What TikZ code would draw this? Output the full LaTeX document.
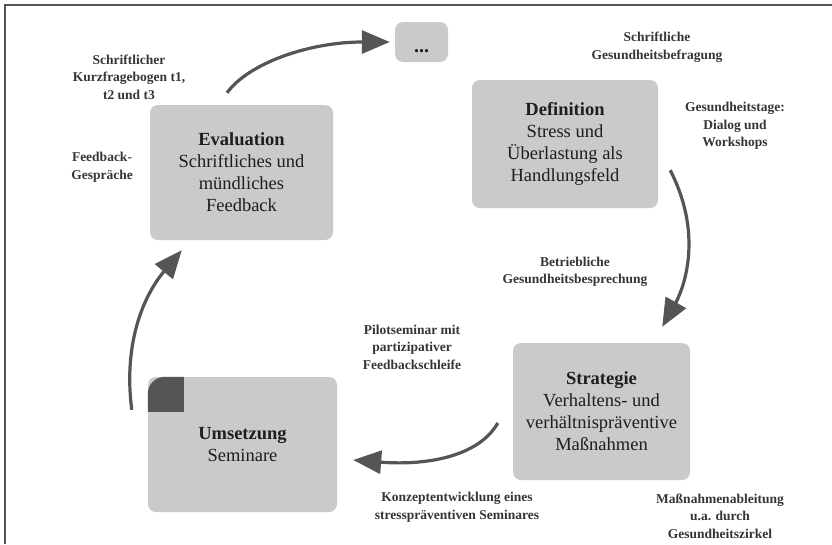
\documentclass[tikz,border=0pt]{standalone}
\usepackage{fontspec}
\setmainfont{Liberation Serif}
\usetikzlibrary{arrows.meta}
\definecolor{boxgray}{HTML}{CACACA}
\definecolor{arrowgray}{HTML}{555555}
\definecolor{ink}{HTML}{1E1E1E}

\begin{document}
\begin{tikzpicture}[x=1pt,y=-1pt,
  phase/.style={fill=boxgray, rounded corners=8pt, inner sep=0pt, align=center,
    text=ink, font=\fontsize{18.5}{22}\selectfont},
  note/.style={align=center, text=ink!90, inner sep=0pt,
    font=\fontsize{13.5}{17.5}\selectfont\bfseries},
  flow/.style={draw=arrowgray, line width=3.2pt, -{Triangle[length=28pt,width=23pt]}},
  cornermark/.style={fill=arrowgray}
]
\useasboundingbox (0,0) rectangle (832,544);
\fill[white] (0,0) rectangle (832,544);
% frame edges
\draw[arrowgray, line width=2pt] (5,544) -- (5,5) -- (832,5);

% phase boxes
\node[phase, minimum width=53pt, minimum height=40pt] (more) at (421.5,42)
  {\raisebox{-21pt}{\bfseries\fontsize{20}{22}\selectfont ...}};
\node[phase, minimum width=183pt, minimum height=135pt] (eval) at (241.5,172.5)
  {{\bfseries Evaluation}\\Schriftliches und\\mündliches\\Feedback};
\node[phase, minimum width=186pt, minimum height=128pt] (def) at (565,144)
  {{\bfseries Definition}\\Stress und\\Überlastung als\\Handlungsfeld};
\node[phase, minimum width=177pt, minimum height=137pt] (strat) at (601.5,411.5)
  {{\bfseries Strategie}\\Verhaltens- und\\verhältnispräventive\\Maßnahmen};
\node[phase, minimum width=189pt, minimum height=135pt] (ums) at (242.5,444.5)
  {{\bfseries Umsetzung}\\Seminare};

% marker on the current phase
\fill[cornermark] ([yshift=-35pt]ums.north west) -- ++(0,-18)
  .. controls +(0,-9.4) and +(-9.4,0) .. ++(17,-17) -- ++(19,0) -- ++(0,35) -- cycle;

% annotations
\node[note] (qa) at (129,77) {Schriftlicher\\Kurzfragebogen t1,\\t2 und t3};
\node[note] (qb) at (102,167) {Feedback-\\Gespräche};
\node[note] (qc) at (657,47) {Schriftliche\\Gesundheitsbefragung};
\node[note] (qd) at (735,126) {Gesundheitstage:\\Dialog und\\Workshops};
\node[note] (qe) at (575,272) {Betriebliche\\Gesundheitsbesprechung};
\node[note] (qf) at (412,347) {Pilotseminar mit\\partizipativer\\Feedbackschleife};
\node[note] (qg) at (457,507) {Konzeptentwicklung eines\\stresspräventiven Seminares};
\node[note] (qh) at (720,516) {Maßnahmenableitung\\u.a. durch\\Gesundheitszirkel};

% cycle arrows
\draw[flow] ([xshift=-14.5pt,yshift=12pt]eval.north)
  .. controls +(22,-30) and +(-80,0) .. ([xshift=-5pt]more.west);
\draw[flow] ([xshift=12pt,yshift=38pt]def.south east)
  .. controls +(36,70) and +(18,-32) .. ([xshift=-28pt,yshift=16pt]strat.north east);
\draw[flow] ([xshift=-15pt,yshift=-11.5pt]strat.west)
  .. controls +(-18,32) and +(77,6) .. ([xshift=16pt,yshift=-15.5pt]ums.east);
\draw[flow] ([xshift=-16pt,yshift=-33pt]ums.north west)
  .. controls +(-8,-60) and +(-42,50) .. ([xshift=32pt,yshift=-10pt]eval.south west);
\end{tikzpicture}
\end{document}
